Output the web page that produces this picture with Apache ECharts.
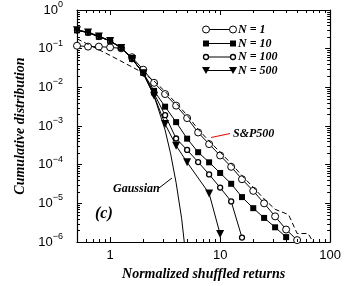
<!DOCTYPE html>
<html>
<head>
<meta charset="utf-8">
<script src="https://cdn.jsdelivr.net/npm/echarts@6/dist/echarts.min.js"></script>
<style>
  html, body { margin: 0; padding: 0; background: #fff; }
  #chart { width: 344px; height: 286px; }
</style>
</head>
<body>
<div id="chart"></div>
<script>
// x grid shared by the aggregated curves (normalized return)
const returnsX = [0.5, 0.63, 0.79, 1.0, 1.26, 1.58, 2.0, 2.51, 3.16, 3.98, 5.01, 6.31, 7.94, 10.0, 12.6, 15.8, 20.0, 25.1, 31.6, 39.8, 50.1]

const n1 = [0.119, 0.113, 0.113, 0.108, 0.102, 0.060, 0.0286, 0.0131, 0.0067, 0.00336, 0.0016, 6.8e-4, 3.4e-4, 1.73e-4, 8.8e-5, 4.2e-5, 2.1e-5, 1.0e-5, 4.6e-6, 2.1e-6, 1.12e-6]
const n10 = [0.298, 0.26, 0.202, 0.16, 0.106, 0.0545, 0.0236, 0.0081, 0.00316, 0.00126, 4.7e-4, 2.1e-4, 1.15e-4, 6.1e-5, 3.2e-5, 1.45e-5, 7.5e-6, 4.2e-6, 2.4e-6, 1.34e-6]
const n100 = [0.30, 0.26, 0.205, 0.158, 0.105, 0.055, 0.0234, 0.0069, 0.0019, 4.75e-4, 2.4e-4, 1.17e-4, 5.6e-5, 2.55e-5, 1.12e-5, 1.3e-6]

const n500X = [0.5, 0.63, 0.79, 1.0, 1.26, 1.58, 2.0, 2.51, 3.16, 3.98, 5.01, 7.94, 10.0]
const n500 = [0.30, 0.262, 0.205, 0.158, 0.104, 0.054, 0.0232, 0.0061, 0.00112, 3.1e-4, 1.15e-4, 1.8e-5, 1.6e-6]

const gaussX = [0.5, 0.63, 0.79, 1.0, 1.26, 1.58, 2.0, 2.51, 3.16, 3.55, 3.98, 4.47, 4.72]
const gauss = [0.31, 0.265, 0.215, 0.159, 0.104, 0.057, 0.0228, 0.006, 7.9e-4, 1.9e-4, 3.4e-5, 4e-6, 1e-6]

const spX = [0.5, 1.0, 2.0, 2.51, 3.16, 3.98, 5.01, 6.31, 7.94, 10.0, 12.6, 15.8, 20.0, 25.1, 31.6, 39.8, 42.0, 50.1, 63.0, 70.0]
const sp = [0.18, 0.067, 0.0236, 0.0145, 0.0078, 0.0039, 0.0019, 8.2e-4, 4.1e-4, 2.1e-4, 1.07e-4, 5.2e-5, 2.6e-5, 1.3e-5, 7.0e-6, 5.4e-6, 5.0e-6, 1.66e-6, 1.66e-6, 1.0e-6]

// minor tick values
const xMinor = [0.6, 0.7, 0.8, 0.9, 2, 3, 4, 5, 6, 7, 8, 9, 20, 30, 40, 50, 60, 70, 80, 90]
const yMinor = [2e-6, 3e-6, 4e-6, 5e-6, 6e-6, 7e-6, 8e-6, 9e-6,
    2e-5, 3e-5, 4e-5, 5e-5, 6e-5, 7e-5, 8e-5, 9e-5,
    2e-4, 3e-4, 4e-4, 5e-4, 6e-4, 7e-4, 8e-4, 9e-4,
    2e-3, 3e-3, 4e-3, 5e-3, 6e-3, 7e-3, 8e-3, 9e-3,
    0.02, 0.03, 0.04, 0.05, 0.06, 0.07, 0.08, 0.09,
    0.2, 0.3, 0.4, 0.5, 0.6, 0.7, 0.8, 0.9]

const legendNames = ['N = 1', 'N = 10', 'N = 100', 'N = 500']

const X_MIN = 0.5, X_MAX = 100, Y_MIN = 1e-6, Y_MAX = 1
const serif = '"Liberation Serif", "Times New Roman", serif'
const sans = '"Liberation Sans", Arial, sans-serif'
const titleFont = 'italic bold 12px ' + serif

const pair = (xArr, yArr) => yArr.map((y, i) => [xArr[i], y])

const isDecade = v => {
    const l = Math.log10(v)
    return Math.abs(l - Math.round(l)) < 1e-6
}

const axisCommon = {
    type: 'log',
    logBase: 10,
    splitLine: { show: false },
    axisLine: { lineStyle: { color: '#000', width: 1.2 } },
    axisTick: { inside: true, length: 5, lineStyle: { color: '#000', width: 1 } },
}

// series look: [symbol, size, fill, border width, rotate]
const marks = [
    { symbol: 'circle', size: 7, fill: '#fff', bw: 1 },
    { symbol: 'rect', size: 6, fill: '#000', bw: 0 },
    { symbol: 'circle', size: 5, fill: '#fff', bw: 1.3 },
    { symbol: 'triangle', size: 8, fill: '#000', bw: 0, rotate: 180 },
]
const curves = [pair(returnsX, n1), pair(returnsX, n10), pair(returnsX, n100), pair(n500X, n500)]

const series = curves.map((data, i) => ({
    name: legendNames[i],
    type: 'line',
    data: data,
    symbol: marks[i].symbol,
    symbolSize: marks[i].size,
    symbolRotate: marks[i].rotate || 0,
    showAllSymbol: true,
    itemStyle: { color: marks[i].fill, borderColor: '#000', borderWidth: marks[i].bw },
    lineStyle: { color: '#000', width: 1 },
    z: 3 + i,
    animation: false,
}))

series.push({
    name: 'Gaussian',
    type: 'line',
    data: pair(gaussX, gauss),
    showSymbol: false,
    lineStyle: { color: '#000', width: 1 },
    z: 2,
    animation: false,
})

series.push({
    name: 'S&P500',
    type: 'line',
    data: pair(spX, sp),
    showSymbol: false,
    lineStyle: { color: '#000', width: 1, type: [5, 3] },
    z: 8,
    animation: false,
})

// minor ticks on all four sides
const tickLine = (x1, y1, x2, y2) => ({
    type: 'line',
    shape: { x1: x1, y1: y1, x2: x2, y2: y2 },
    style: { stroke: '#000', lineWidth: 1 },
})

series.push({
    type: 'custom',
    silent: true,
    clip: false,
    data: xMinor.map(v => [v, Y_MIN]),
    renderItem: (params, api) => {
        const v = api.value(0)
        const b = api.coord([v, Y_MIN])
        const t = api.coord([v, Y_MAX])
        const x = Math.round(b[0]) + 0.5
        return {
            type: 'group',
            children: [tickLine(x, b[1], x, b[1] - 3), tickLine(x, t[1], x, t[1] + 3)]
        }
    },
    z: 10,
    animation: false,
})

series.push({
    type: 'custom',
    silent: true,
    clip: false,
    data: yMinor.map(v => [X_MIN, v]),
    renderItem: (params, api) => {
        const v = api.value(1)
        const l = api.coord([X_MIN, v])
        const r = api.coord([X_MAX, v])
        const y = Math.round(l[1]) + 0.5
        return {
            type: 'group',
            children: [tickLine(l[0], y, l[0] + 3, y), tickLine(r[0], y, r[0] - 3, y)]
        }
    },
    z: 10,
    animation: false,
})

// hand-drawn legend (markers at both ends of each line)
const markerShape = (m, x, y) => {
    if (m.symbol === 'rect') {
        return { type: 'rect', shape: { x: x - m.size / 2, y: y - m.size / 2, width: m.size, height: m.size }, style: { fill: '#000' } }
    }
    if (m.symbol === 'triangle') {
        return { type: 'polygon', shape: { points: [[x - 4, y - 3.5], [x + 4, y - 3.5], [x, y + 3.5]] }, style: { fill: '#000' } }
    }
    return { type: 'circle', shape: { cx: x, cy: y, r: m.size / 2 }, style: { fill: m.fill, stroke: '#000', lineWidth: m.bw } }
}

const legendRowsY = [29.5, 43.5, 57, 70.5]
const legendGraphic = []
legendNames.forEach((name, i) => {
    const y = legendRowsY[i]
    legendGraphic.push({ type: 'line', shape: { x1: 206, y1: y, x2: 233, y2: y }, style: { stroke: '#000', lineWidth: 1 } })
    legendGraphic.push(markerShape(marks[i], 206, y))
    legendGraphic.push(markerShape(marks[i], 233, y))
    legendGraphic.push({
        type: 'text',
        style: { x: 238, y: y, text: name, font: titleFont, fill: '#000', verticalAlign: 'middle' }
    })
})

const option = {
    backgroundColor: '#fff',
    animation: false,
    grid: { left: 77, right: 12, top: 6, bottom: 44 },
    xAxis: [
        Object.assign({}, axisCommon, {
            min: X_MIN, max: X_MAX, position: 'bottom',
            axisLabel: {
                color: '#000', fontFamily: sans, fontSize: 13, margin: 7,
                formatter: v => isDecade(v) ? String(Math.round(v)) : ''
            },
            name: 'Normalized shuffled returns',
            nameLocation: 'middle',
            nameGap: 24,
            nameTextStyle: { color: '#000', fontFamily: serif, fontStyle: 'italic', fontWeight: 'bold', fontSize: 14 },
        }),
        Object.assign({}, axisCommon, {
            min: X_MIN, max: X_MAX, position: 'top',
            axisLabel: { show: false },
        }),
    ],
    yAxis: [
        Object.assign({}, axisCommon, {
            min: Y_MIN, max: Y_MAX, position: 'left',
            axisLabel: {
                margin: 14,
                formatter: v => {
                    const n = Math.round(Math.log10(v))
                    return '{b|10}{s|' + (n === 0 ? '0' : '\u2212' + (-n)) + '}'
                },
                rich: {
                    b: { fontFamily: sans, fontSize: 13, color: '#000', lineHeight: 20 },
                    s: { fontFamily: sans, fontSize: 9, color: '#000', lineHeight: 9, verticalAlign: 'top' },
                },
            },
            name: 'Cumulative distribution',
            nameLocation: 'middle',
            nameGap: 49,
            nameTextStyle: { color: '#000', fontFamily: serif, fontStyle: 'italic', fontWeight: 'bold', fontSize: 14 },
        }),
        Object.assign({}, axisCommon, {
            min: Y_MIN, max: Y_MAX, position: 'right',
            axisLabel: { show: false },
        }),
    ],
    graphic: legendGraphic.concat([
        { type: 'line', shape: { x1: 211, y1: 137.5, x2: 230, y2: 133.5 }, style: { stroke: '#f00', lineWidth: 1 } },
        { type: 'text', style: { x: 233, y: 134, text: 'S&P500', font: titleFont, fill: '#000', verticalAlign: 'middle' } },
        { type: 'line', shape: { x1: 159, y1: 188, x2: 172, y2: 178 }, style: { stroke: '#000', lineWidth: 1 } },
        { type: 'text', style: { x: 113, y: 189, text: 'Gaussian', font: titleFont, fill: '#000', verticalAlign: 'middle' } },
        { type: 'text', style: { x: 95, y: 214, text: '(c)', font: 'italic bold 16px ' + serif, fill: '#000', verticalAlign: 'middle' } },
    ]),
    series: series,
}

const myChart = echarts.init(document.getElementById('chart'), null, { renderer: 'canvas' })
myChart.setOption(option)
</script>
</body>
</html>
